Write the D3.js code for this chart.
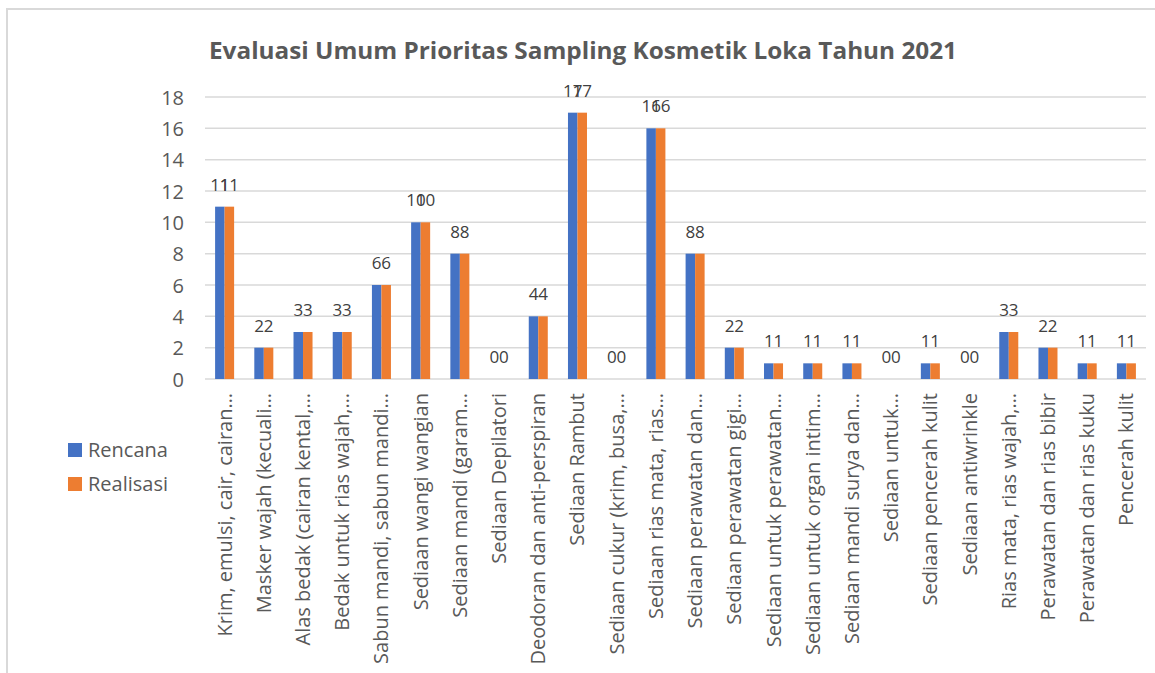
<!DOCTYPE html>
<html>
<head>
<meta charset="utf-8">
<script src="https://cdn.jsdelivr.net/npm/d3@7/dist/d3.min.js"></script>
<style>
  html, body { margin: 0; padding: 0; background: #fff; }
  svg { display: block; font-family: "Open Sans", sans-serif; }
</style>
</head>
<body>
<svg id="chart" width="1155" height="673"></svg>
<script>
const categories = [
  "Krim, emulsi, cair, cairan…",
  "Masker wajah (kecuali…",
  "Alas bedak (cairan kental,…",
  "Bedak untuk rias wajah,…",
  "Sabun mandi, sabun mandi…",
  "Sediaan wangi wangian",
  "Sediaan mandi (garam…",
  "Sediaan Depilatori",
  "Deodoran dan anti-perspiran",
  "Sediaan Rambut",
  "Sediaan cukur (krim, busa,…",
  "Sediaan rias mata, rias…",
  "Sediaan perawatan dan…",
  "Sediaan perawatan gigi…",
  "Sediaan untuk perawatan…",
  "Sediaan untuk organ intim…",
  "Sediaan mandi surya dan…",
  "Sediaan untuk…",
  "Sediaan pencerah kulit",
  "Sediaan antiwrinkle",
  "Rias mata, rias wajah,…",
  "Perawatan dan rias bibir",
  "Perawatan dan rias kuku",
  "Pencerah kulit"
];
const rencana   = [11, 2, 3, 3, 6, 10, 8, 0, 4, 17, 0, 16, 8, 2, 1, 1, 1, 0, 1, 0, 3, 2, 1, 1];
const realisasi = [11, 2, 3, 3, 6, 10, 8, 0, 4, 17, 0, 16, 8, 2, 1, 1, 1, 0, 1, 0, 3, 2, 1, 1];
const seriesNames = ["Rencana", "Realisasi"];
const seriesColors = ["#4472C4", "#ED7D31"];
const yTicks = [0, 2, 4, 6, 8, 10, 12, 14, 16, 18];
const title = "Evaluasi Umum Prioritas Sampling Kosmetik Loka Tahun 2021";

const seriesValues = [rencana, realisasi];
const svg = d3.select("#chart");

// chart frame
svg.append("path")
  .attr("d", "M7,673 L7,9 L1155,9")
  .attr("fill", "none").attr("stroke", "#D9D9D9").attr("stroke-width", 2);

const plot = { left: 205, right: 1146, top: 97, bottom: 379 };

const x0 = d3.scaleBand().domain(d3.range(categories.length))
  .range([plot.left, plot.right]).paddingInner(0.515).paddingOuter(0.2575);
const x1 = d3.scaleBand().domain(d3.range(seriesNames.length))
  .range([0, x0.bandwidth()]);
const y = d3.scaleLinear().domain([0, 18]).range([plot.bottom, plot.top]);

// title
svg.append("text")
  .attr("x", 583).attr("y", 59)
  .attr("text-anchor", "middle")
  .attr("font-size", 23).attr("font-weight", "bold")
  .attr("fill", "#595959")
  .attr("textLength", 748).attr("lengthAdjust", "spacingAndGlyphs")
  .text(title);

// gridlines
svg.append("g").selectAll("line").data(yTicks).join("line")
  .attr("x1", plot.left).attr("x2", plot.right)
  .attr("y1", d => y(d)).attr("y2", d => y(d))
  .attr("stroke", "#D9D9D9").attr("stroke-width", 1.5);

// y axis labels
const yAxis = d3.axisLeft(y).tickValues(yTicks).tickSize(0).tickPadding(0);
const yg = svg.append("g").attr("transform", `translate(184,0)`).call(yAxis);
yg.select(".domain").remove();
yg.selectAll("text")
  .attr("font-family", "Open Sans, sans-serif")
  .attr("font-size", 20).attr("fill", "#595959").attr("dy", "0.35em");

// bars
const groups = svg.append("g").selectAll("g").data(categories.map((c, i) => i)).join("g")
  .attr("transform", i => `translate(${x0(i)},0)`);

groups.selectAll("rect")
  .data(i => seriesValues.map((vals, s) => ({ s, v: vals[i] })))
  .join("rect")
  .attr("x", d => x1(d.s))
  .attr("width", x1.bandwidth())
  .attr("y", d => y(d.v))
  .attr("height", d => y(0) - y(d.v))
  .attr("fill", d => seriesColors[d.s]);

// data labels
groups.selectAll("text")
  .data(i => seriesValues.map((vals, s) => ({ s, v: vals[i] })))
  .join("text")
  .attr("x", d => x1(d.s) + x1.bandwidth() / 2)
  .attr("y", d => y(d.v) - 16)
  .attr("text-anchor", "middle")
  .attr("font-size", 17).attr("fill", "#404040")
  .text(d => d.v);

// x axis labels
const xg = svg.append("g");
xg.selectAll("text").data(categories.map((c, i) => i)).join("text")
  .attr("transform", i => `translate(${x0(i) + x0.bandwidth() / 2},393) rotate(-90)`)
  .attr("text-anchor", "end")
  .attr("dy", "0.35em")
  .attr("font-size", 20).attr("fill", "#595959")
  .text(i => categories[i]);

// legend
const legend = svg.append("g");
seriesNames.forEach((name, s) => {
  const cy = 450 + s * 34;
  legend.append("rect").attr("x", 68).attr("y", cy - 7).attr("width", 14).attr("height", 14)
    .attr("fill", seriesColors[s]);
  legend.append("text").attr("x", 88).attr("y", cy).attr("dy", "0.35em")
    .attr("font-size", 20).attr("fill", "#595959").text(name);
});
</script>
</body>
</html>
